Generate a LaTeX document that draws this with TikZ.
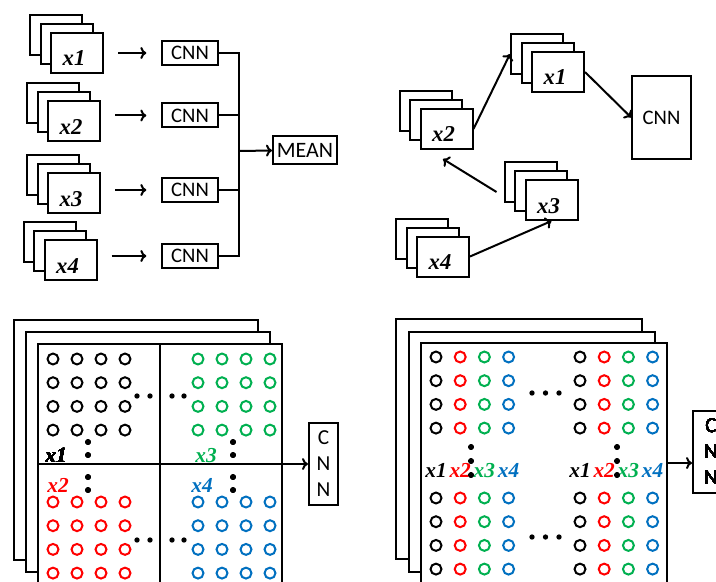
\documentclass[tikz,border=0pt]{standalone}
\usepackage{fontspec}
\newfontfamily\cnnfont{Carlito}
\newfontfamily\labfont{Liberation Serif}
\usetikzlibrary{arrows.meta, positioning}
\definecolor{xred}{RGB}{255,0,0}
\definecolor{xgreen}{RGB}{0,176,80}
\definecolor{xblue}{RGB}{0,112,192}
\tikzstyle{line} = [draw, line width=1.5pt, -{To[length=4.5pt,width=9pt]}]
\tikzstyle{wire} = [draw, line width=1.5pt]
\tikzstyle{block} = [rectangle, draw, line width=1.5pt, inner sep=0pt, font=\cnnfont\fontsize{15.5}{19}\selectfont, minimum width=42pt, minimum height=18pt]
\tikzstyle{frame} = [rectangle, draw, fill=white, line width=1.5pt, inner sep=0pt, minimum width=39pt, minimum height=30pt]
\tikzstyle{sheet} = [rectangle, draw, fill=white, line width=1.5pt, inner sep=0pt, minimum width=183pt, minimum height=180pt]
\tikzstyle{tall} = [block, align=center, minimum width=21.75pt, minimum height=62pt, font=\cnnfont\fontsize{16}{19.5}\selectfont]
\tikzstyle{lab} = [anchor=base, inner sep=0pt, font=\labfont\bfseries\itshape\fontsize{17}{20}\selectfont]
\tikzstyle{sublab} = [lab, font=\labfont\bfseries\itshape\fontsize{16}{19}\selectfont]
\tikzstyle{ring} = [line width=1.5pt]
% three stacked images, front one named #1
\newcommand{\imstack}[4]{%
  \node [frame] (#1b) at (#2-21,#3-18) {};
  \node [frame] (#1m) at (#2-10.5,#3-9) {};
  \node [frame] (#1) at (#2,#3) {};
  \node [lab] (#1t) at ([shift={(-3,-8)}]#1.south) {#4};
}
\newcommand{\dotat}[2]{\fill (#1,#2) circle[radius=2pt];}

\begin{document}
\begin{tikzpicture}[x=0.75pt, y=-0.75pt]
\useasboundingbox (0,0) rectangle (716,581);

% separate CNNs, then mean
\imstack{a1}{77}{53}{x1}
\imstack{a2}{74}{121}{x2}
\imstack{a3}{74}{193}{x3}
\imstack{a4}{70.5}{260}{x4}
\node [block] (cnn1) at (190,53) {CNN};
\node [block] (cnn2) at (190,115.5) {CNN};
\node [block] (cnn3) at (190,190) {CNN};
\node [block] (cnn4) at (190,256) {CNN};
\node [block, minimum width=48pt, minimum height=21pt, font=\cnnfont\fontsize{16.5}{20}\selectfont] (mean) at (305,150) {MEAN};
\coordinate (join) at (239,151);
\path [line, shorten <=10.5pt, shorten >=11pt] (a1.east |- cnn1) -- (cnn1);
\path [line, shorten <=10.5pt, shorten >=11pt] (a2.east |- cnn2) -- (cnn2);
\path [line, shorten <=10.5pt, shorten >=11pt] (a3.east |- cnn3) -- (cnn3);
\path [line, shorten <=10.5pt, shorten >=11pt] (a4.east |- cnn4) -- (cnn4);
\path [wire] (cnn1.east) -| (join);
\path [wire] (cnn4.east) -| (join);
\path [wire] (cnn2.east) -- (cnn2.east -| join);
\path [wire] (cnn3.east) -- (cnn3.east -| join);
\path [line] (join) -- (mean);

% chained inputs into one CNN
\imstack{b1}{558}{72}{x1}
\imstack{b2}{446.5}{129}{x2}
\imstack{b3}{551.5}{200}{x3}
\imstack{b4}{443}{256.5}{x4}
\node [block, minimum width=44pt, minimum height=62pt] (cnnb) at (661.5,117.5) {CNN};
\path [line] (b2.east) -- (b1b.west);
\path [line] (b1.east) -- (cnnb.west);
\path [line] ([shift={(-7,10)}]b3b.west) -- ([shift={(-3.5,9)}]b2.south);
\path [line] (b4.east) -- (b3.south);

% tiled channels
\node [sheet] (ga3) at (136,440) {};
\node [sheet] (ga2) at (148,452) {};
\node [sheet] (ga1) at (160,464) {};
\draw [line width=1.2pt] (ga1.north) -- (ga1.south);
\draw [line width=1.2pt] (ga1.west) -- (ga1.east);
\foreach \col/\xo/\yo in {black/53/359, xgreen/198/359, xred/53/502, xblue/198/502}
  \foreach \i in {0,...,3}
    \foreach \j in {0,...,3}
      \draw [ring, \col] (\xo+\i*24, \yo+\j*23.7) circle[radius=4.1pt];
\foreach \yy in {396, 540}
  \foreach \xx in {137, 150, 172, 184}
    \dotat{\xx}{\yy}
\foreach \xx in {88, 233}
  \foreach \yy in {442, 455, 477, 490}
    \dotat{\xx}{\yy}
\node [sublab] (ta1) at (56,462) {x1};
\node [sublab, xgreen] (ta3) at (206,462) {x3};
\node [sublab, xred] (ta2) at (58,492) {x2};
\node [sublab, xblue] (ta4) at (202,492) {x4};
\node [tall] (cnnc) at (323.5,464) {C\\N\\N};
\path [line] (ga1.east) -- (ga1.east -| cnnc.west);

% interleaved channels
\node [sheet, minimum width=184.5pt] (gb3) at (519,439) {};
\node [sheet, minimum width=184.5pt] (gb2) at (531.5,452) {};
\node [sheet, minimum width=184.5pt] (gb1) at (543.5,463) {};
\foreach \col/\k in {black/0, xred/1, xgreen/2, xblue/3}
  \foreach \xo in {436, 580}
    \foreach \yo in {357, 498}
      \foreach \j in {0,...,3}
        \draw [ring, \col] (\xo+\k*24.2, \yo+\j*23.7) circle[radius=4.1pt];
\foreach \col/\k/\n in {black/0/1, xred/1/2, xgreen/2/3, xblue/3/4}
  \foreach \xo in {436, 580}
    \node [sublab, \col] (tb\n-\xo) at (\xo+\k*24.2, 477) {x\n};
\foreach \yy in {393, 537}
  \foreach \xx in {532, 545.5, 559}
    \dotat{\xx}{\yy}
\foreach \xx in {471, 617}
  \foreach \yy in {447, 461, 475}
    \dotat{\xx}{\yy}
\node [tall, minimum width=27pt, minimum height=61.5pt] (cnnd) at (711,452) {C\\N\\N};
\path [line] (gb1.east) -- (gb1.east -| cnnd.west);
\end{tikzpicture}
\end{document}
